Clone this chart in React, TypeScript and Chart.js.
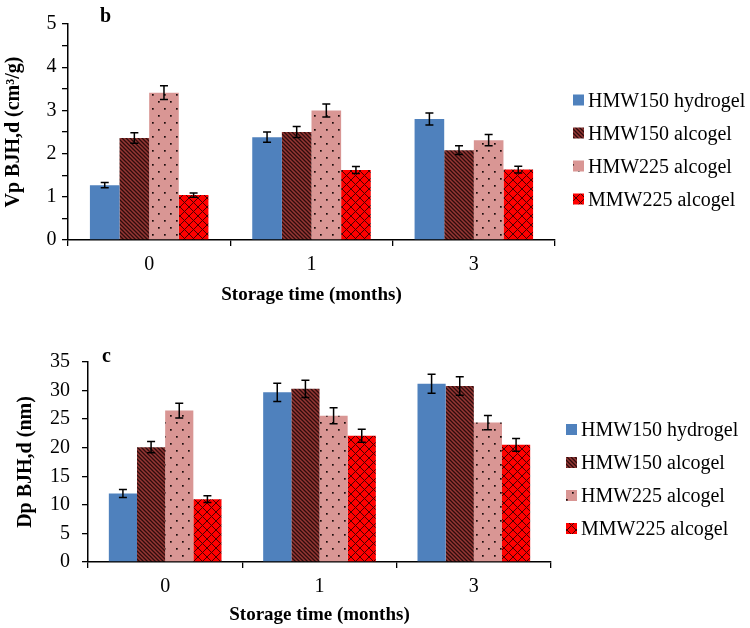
import React, { useEffect, useRef } from "react";
import { Chart, registerables } from "chart.js";

Chart.register(...registerables);

const FONT = "'Liberation Serif', 'Times New Roman', Times, serif";

// ---------- data ----------
const categories = ["0", "1", "3"];
const seriesLabels = ["HMW150 hydrogel", "HMW150 alcogel", "HMW225 alcogel", "MMW225 alcogel"];

// panel b: Vp BJH,d (cm3/g)
const vpHMW150Hydrogel = [1.27, 2.38, 2.8];
const vpHMW150Alcogel = [2.36, 2.5, 2.08];
const vpHMW225Alcogel = [3.41, 3.0, 2.31];
const vpMMW225Alcogel = [1.04, 1.62, 1.63];
const vpErrHMW150Hydrogel = [0.06, 0.12, 0.14];
const vpErrHMW150Alcogel = [0.12, 0.13, 0.1];
const vpErrHMW225Alcogel = [0.16, 0.15, 0.13];
const vpErrMMW225Alcogel = [0.05, 0.08, 0.08];
const vpAxisMax = 5;
const vpTickStep = 0.5;

// panel c: Dp BJH,d (nm)
const dpHMW150Hydrogel = [12.0, 29.7, 31.2];
const dpHMW150Alcogel = [20.1, 30.3, 30.8];
const dpHMW225Alcogel = [26.5, 25.6, 24.4];
const dpMMW225Alcogel = [11.0, 22.1, 20.5];
const dpErrHMW150Hydrogel = [0.7, 1.6, 1.65];
const dpErrHMW150Alcogel = [1.0, 1.5, 1.6];
const dpErrHMW225Alcogel = [1.3, 1.4, 1.25];
const dpErrMMW225Alcogel = [0.6, 1.15, 1.1];
const dpAxisMax = 35;
const dpTickStep = 5;

// ---------- patterns ----------
function makeTile(w: number, h: number, draw: (g: CanvasRenderingContext2D) => void) {
  const c = document.createElement("canvas");
  c.width = w;
  c.height = h;
  const g = c.getContext("2d")!;
  draw(g);
  const ctx = document.createElement("canvas").getContext("2d")!;
  return ctx.createPattern(c, "repeat") as CanvasPattern;
}

function makeFills(): (string | CanvasPattern)[] {
  const blue = "#4F81BD";
  const hatch = makeTile(4, 4, (g) => {
    g.fillStyle = "#953735";
    g.fillRect(0, 0, 4, 4);
    g.strokeStyle = "#2e0c0c";
    g.lineWidth = 1.3;
    g.beginPath();
    for (let k = -1; k <= 1; k++) {
      g.moveTo(k * 4 - 1, -1);
      g.lineTo(k * 4 + 5, 5);
    }
    g.stroke();
  });
  const dots = makeTile(12, 14, (g) => {
    g.fillStyle = "#D99694";
    g.fillRect(0, 0, 12, 14);
    g.fillStyle = "#1a0a0a";
    g.fillRect(2, 3, 1.7, 1.7);
    g.fillRect(8, 10, 1.7, 1.7);
  });
  const cross = makeTile(9, 9, (g) => {
    g.fillStyle = "#FF0000";
    g.fillRect(0, 0, 9, 9);
    g.strokeStyle = "#4a0000";
    g.lineWidth = 1;
    g.beginPath();
    for (let k = -1; k <= 1; k++) {
      g.moveTo(k * 9 - 1, -1);
      g.lineTo(k * 9 + 10, 10);
      g.moveTo(k * 9 - 1, 10);
      g.lineTo(k * 9 + 10, -1);
    }
    g.stroke();
  });
  return [blue, hatch, dots, cross];
}

// ---------- plugins ----------
function errorBarPlugin(errors: number[][]) {
  return {
    id: "errorBars",
    afterDatasetsDraw(chart: any) {
      const ctx = chart.ctx;
      const ys = chart.scales.y;
      ctx.save();
      ctx.strokeStyle = "#000";
      ctx.lineWidth = 1.5;
      chart.data.datasets.forEach((ds: any, i: number) => {
        const meta = chart.getDatasetMeta(i);
        meta.data.forEach((el: any, j: number) => {
          const v = ds.data[j];
          const e = errors[i][j];
          const x = el.x;
          const y1 = ys.getPixelForValue(v + e);
          const y2 = ys.getPixelForValue(v - e);
          const cap = 4;
          ctx.beginPath();
          ctx.moveTo(x, y1);
          ctx.lineTo(x, y2);
          ctx.moveTo(x - cap, y1);
          ctx.lineTo(x + cap, y1);
          ctx.moveTo(x - cap, y2);
          ctx.lineTo(x + cap, y2);
          ctx.stroke();
        });
      });
      ctx.restore();
    },
  };
}

function sideLegendPlugin(dx: number, dy: number, rowGap: number) {
  return {
    id: "sideLegend",
    afterDraw(chart: any) {
      const ctx = chart.ctx;
      const area = chart.chartArea;
      const cy = (area.top + area.bottom) / 2 + dy;
      const n = chart.data.datasets.length;
      const box = 11;
      const size = 20;
      ctx.save();
      ctx.font = `${size}px ${FONT}`;
      ctx.textAlign = "left";
      ctx.textBaseline = "alphabetic";
      chart.data.datasets.forEach((ds: any, i: number) => {
        const ry = cy + (i - (n - 1) / 2) * rowGap;
        const bx = area.right + dx;
        ctx.fillStyle = ds.backgroundColor;
        ctx.fillRect(bx, ry - box / 2, box, box);
        ctx.fillStyle = "#000";
        ctx.fillText(ds.label, bx + box + 4, ry + size * 0.33);
      });
      ctx.restore();
    },
  };
}

function panelLabelPlugin(text: string, dx: number, dy: number) {
  return {
    id: "panelLabel",
    afterDraw(chart: any) {
      const ctx = chart.ctx;
      const area = chart.chartArea;
      ctx.save();
      ctx.font = `bold 20px ${FONT}`;
      ctx.fillStyle = "#000";
      ctx.textAlign = "left";
      ctx.textBaseline = "alphabetic";
      ctx.fillText(text, area.left + dx, area.top + dy);
      ctx.restore();
    },
  };
}

type PanelProps = {
  top: number;
  height: number;
  values: number[][];
  errors: number[][];
  yMax: number;
  yStep: number;
  yTitle: string;
  panel: string;
  cfg: {
    padTop: number;
    padRight: number;
    yWidth: number;
    xHeight: number;
    yTickPad: number;
    yTitlePad: number;
    xTickPad: number;
    xTitlePad: number;
    legendDx: number;
    legendDy: number;
    labelDx: number;
    labelDy: number;
  };
};

function BarPanel(p: PanelProps) {
  const ref = useRef<HTMLCanvasElement | null>(null);
  useEffect(() => {
    if (!ref.current) return;
    const fills = makeFills();
    const c = p.cfg;
    const chart = new Chart(ref.current, {
      type: "bar",
      data: {
        labels: categories,
        datasets: p.values.map((vals, i) => ({
          label: seriesLabels[i],
          data: vals,
          backgroundColor: fills[i] as any,
          borderWidth: 0,
          categoryPercentage: 0.73,
          barPercentage: 1.0,
        })),
      },
      options: {
        responsive: false,
        animation: false,
        devicePixelRatio: 1,
        layout: { padding: { top: c.padTop, right: c.padRight, left: 0, bottom: 0 } },
        plugins: {
          legend: { display: false },
          tooltip: { enabled: false },
        },
        scales: {
          x: {
            grid: {
              display: true,
              drawOnChartArea: false,
              drawTicks: true,
              tickLength: 6,
              color: "#000",
              lineWidth: 1.3,
              offset: true,
            },
            border: { display: true, color: "#000", width: 1.5 },
            ticks: { color: "#000", font: { family: FONT, size: 20 }, padding: c.xTickPad },
            title: {
              display: true,
              text: "Storage time (months)",
              color: "#000",
              font: { family: FONT, size: 19, weight: "bold" },
              padding: { top: 0, bottom: c.xTitlePad },
            },
            afterFit: (s: any) => {
              s.height = c.xHeight;
            },
          },
          y: {
            min: 0,
            max: p.yMax,
            grid: {
              display: true,
              drawOnChartArea: false,
              drawTicks: true,
              tickLength: 6,
              color: "#000",
              lineWidth: 1.3,
            },
            border: { display: true, color: "#000", width: 1.5 },
            ticks: {
              stepSize: p.yStep,
              autoSkip: false,
              color: "#000",
              font: { family: FONT, size: 20 },
              padding: c.yTickPad,
              callback: (v: any) => (Number.isInteger(Number(v)) ? String(v) : ""),
            },
            title: {
              display: true,
              text: p.yTitle,
              color: "#000",
              font: { family: FONT, size: 20, weight: "bold" },
              padding: { top: c.yTitlePad, bottom: 0 },
            },
            afterFit: (s: any) => {
              s.width = c.yWidth;
            },
          },
        },
      } as any,
      plugins: [
        errorBarPlugin(p.errors),
        sideLegendPlugin(c.legendDx, c.legendDy, 33),
        panelLabelPlugin(p.panel, c.labelDx, c.labelDy),
      ],
    });
    return () => chart.destroy();
  }, []);
  return (
    <div style={{ position: "absolute", left: 0, top: p.top, width: 750, height: p.height }}>
      <canvas ref={ref} width={750} height={p.height} style={{ display: "block" }} />
    </div>
  );
}

export default function App() {
  return (
    <div style={{ position: "absolute", left: 0, top: 0, width: 750, height: 628, background: "#fff" }}>
      <BarPanel
        top={0}
        height={314}
        values={[vpHMW150Hydrogel, vpHMW150Alcogel, vpHMW225Alcogel, vpMMW225Alcogel]}
        errors={[vpErrHMW150Hydrogel, vpErrHMW150Alcogel, vpErrHMW225Alcogel, vpErrMMW225Alcogel]}
        yMax={vpAxisMax}
        yStep={vpTickStep}
        yTitle="Vp BJH,d (cm³/g)"
        panel="b"
        cfg={{
          padTop: 24,
          padRight: 195,
          yWidth: 68,
          xHeight: 74,
          yTickPad: 5.5,
          yTitlePad: 2,
          xTickPad: 7,
          xTitlePad: 8,
          legendDx: 18,
          legendDy: 17.5,
          labelDx: 32,
          labelDy: -2,
        }}
      />
      <BarPanel
        top={314}
        height={314}
        values={[dpHMW150Hydrogel, dpHMW150Alcogel, dpHMW225Alcogel, dpMMW225Alcogel]}
        errors={[dpErrHMW150Hydrogel, dpErrHMW150Alcogel, dpErrHMW225Alcogel, dpErrMMW225Alcogel]}
        yMax={dpAxisMax}
        yStep={dpTickStep}
        yTitle="Dp BJH,d (nm)"
        panel="c"
        cfg={{
          padTop: 48,
          padRight: 199,
          yWidth: 88,
          xHeight: 66,
          yTickPad: 12,
          yTitlePad: 13.5,
          xTickPad: 7,
          xTitlePad: 2,
          legendDx: 15,
          legendDy: 17,
          labelDx: 14,
          labelDy: 0,
        }}
      />
    </div>
  );
}
